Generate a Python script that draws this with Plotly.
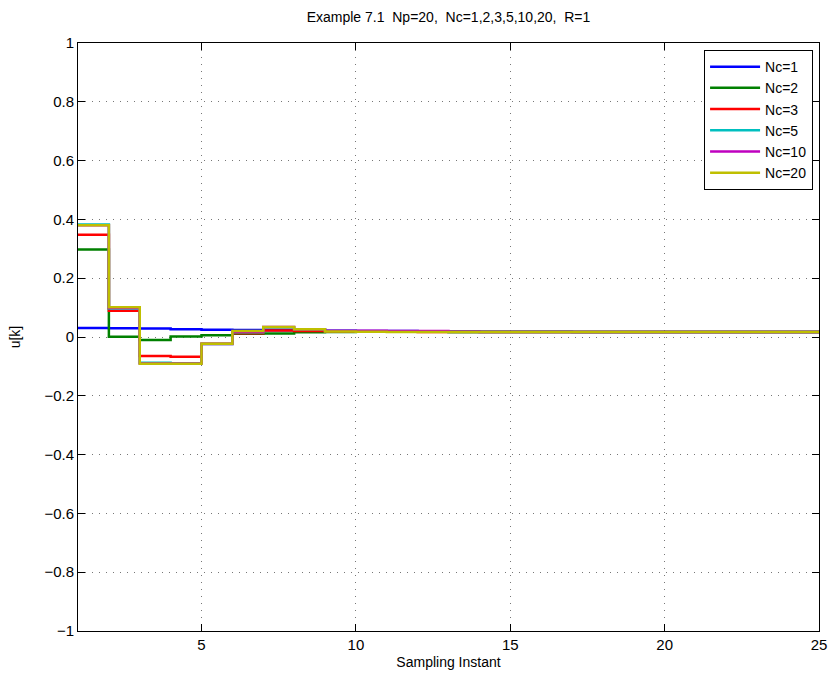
import plotly.graph_objects as go

k = list(range(1, 26))

nc1 = [0.031, 0.030, 0.029, 0.026, 0.025, 0.024, 0.023, 0.022, 0.021, 0.020,
       0.020, 0.019, 0.019, 0.018, 0.018, 0.018, 0.017, 0.017, 0.017, 0.017,
       0.017, 0.017, 0.017, 0.017, 0.017]
nc2 = [0.298, 0.001, -0.010, 0.002, 0.006, 0.011, 0.012, 0.016, 0.017, 0.018,
       0.018, 0.018, 0.017, 0.017, 0.017, 0.017, 0.017, 0.017, 0.017, 0.017,
       0.017, 0.017, 0.017, 0.017, 0.017]
nc3 = [0.348, 0.089, -0.065, -0.067, -0.023, 0.013, 0.022, 0.020, 0.019, 0.018,
       0.018, 0.017, 0.017, 0.017, 0.017, 0.017, 0.017, 0.017, 0.017, 0.017,
       0.017, 0.017, 0.017, 0.017, 0.017]
nc5 = [0.383, 0.097, -0.088, -0.089, -0.024, 0.016, 0.032, 0.026, 0.020, 0.019,
       0.018, 0.018, 0.017, 0.017, 0.017, 0.017, 0.017, 0.017, 0.017, 0.017,
       0.017, 0.017, 0.017, 0.017, 0.017]
nc10 = [0.380, 0.099, -0.090, -0.090, -0.024, 0.018, 0.034, 0.026, 0.021, 0.021,
        0.020, 0.020, 0.018, 0.017, 0.017, 0.017, 0.017, 0.017, 0.017, 0.017,
        0.017, 0.017, 0.017, 0.017, 0.017]
nc20 = [0.380, 0.101, -0.091, -0.091, -0.023, 0.020, 0.034, 0.026, 0.019, 0.018,
        0.017, 0.017, 0.017, 0.017, 0.017, 0.017, 0.017, 0.017, 0.017, 0.017,
        0.017, 0.017, 0.017, 0.017, 0.017]

series = [("Nc=1", nc1, "#0000FF"), ("Nc=2", nc2, "#008000"), ("Nc=3", nc3, "#FF0000"),
          ("Nc=5", nc5, "#00BFBF"), ("Nc=10", nc10, "#BF00BF"), ("Nc=20", nc20, "#BFBF00")]

xticks = [5, 10, 15, 20, 25]
yticks = [-1, -0.8, -0.6, -0.4, -0.2, 0, 0.2, 0.4, 0.6, 0.8, 1]
ytext = ["\u22121", "\u22120.8", "\u22120.6", "\u22120.4", "\u22120.2", "0", "0.2", "0.4", "0.6", "0.8", "1"]

FONT = "Liberation Sans, Arial, Helvetica, sans-serif"

fig = go.Figure()
for name, vals, col in series:
    fig.add_trace(go.Scatter(x=k, y=vals, mode="lines", name=name,
                             line=dict(color=col, width=2.5, shape="hv")))

axis_common = dict(showline=True, linecolor="black", linewidth=1, mirror="ticks",
                   ticks="inside", ticklen=7, tickcolor="black",
                   showgrid=True, gridcolor="#777777", griddash="1px,6px", gridwidth=1,
                   zeroline=False, tickfont=dict(size=15, color="black", family=FONT))

fig.update_layout(
    width=839, height=681,
    margin=dict(l=78, r=13, t=43, b=50),
    paper_bgcolor="white", plot_bgcolor="white",
    font=dict(family=FONT, size=14, color="black"),
    title=dict(text="Example 7.1\u00a0\u00a0Np=20,\u00a0\u00a0Nc=1,2,3,5,10,20,\u00a0\u00a0R=1",
               x=0.5, xref="paper", xanchor="center", y=1 - 17 / 681, yanchor="middle",
               font=dict(size=14)),
    xaxis=dict(range=[1, 25], tickvals=xticks,
               title=dict(text="Sampling Instant", standoff=5, font=dict(size=14)),
               **axis_common),
    yaxis=dict(range=[-1, 1], tickvals=yticks, ticktext=ytext,
               title=dict(text="u[k]", standoff=20, font=dict(size=14)),
               **axis_common),
    legend=dict(x=0.992, y=0.988, xanchor="right", yanchor="top",
                bgcolor="white", bordercolor="black", borderwidth=1,
                font=dict(size=14, family=FONT), itemwidth=50,
                tracegroupgap=0),
    showlegend=True,
)

fig.write_html("out.html")
